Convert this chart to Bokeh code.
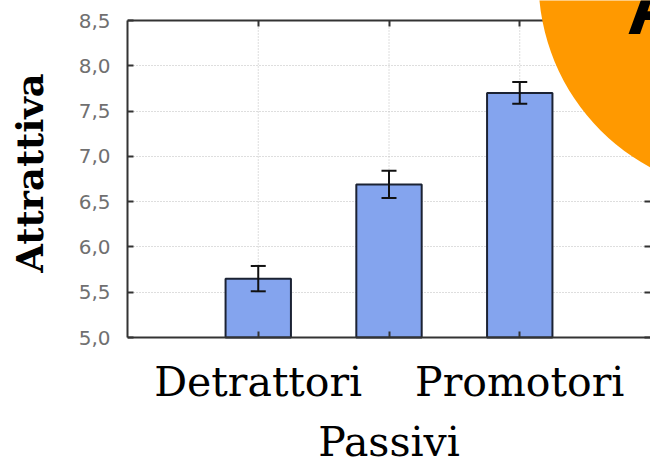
from bokeh.plotting import figure
from bokeh.models import (ColumnDataSource, Whisker, TeeHead, LinearAxis, FixedTicker,
                          CustomJSTickFormatter, BoxAnnotation, Label, Range1d)
from bokeh.embed import file_html
from bokeh.resources import INLINE

categories = ["Detrattori", "Passivi", "Promotori"]
means = [5.65, 6.69, 7.70]
errors = [0.14, 0.15, 0.12]
y_ticks = [5.0, 5.5, 6.0, 6.5, 7.0, 7.5, 8.0, 8.5]
y_title = "Attrattiva"

xs = [i + 1 for i in range(len(categories))]
src = ColumnDataSource(dict(
    x=xs, cat=categories, mean=means,
    upper=[m + e for m, e in zip(means, errors)],
    lower=[m - e for m, e in zip(means, errors)],
))

# the frame covers the whole canvas height; the value axis (5,0 - 8,5) sits
# between y = 20 px and y = 337 px, the bottom and top axes are fixed at its ends
Y0, Y1 = y_ticks[0], y_ticks[-1]
AXIS_TOP, AXIS_Y, CANVAS_H = 20, 337, 461
px_per_unit = (AXIS_Y - AXIS_TOP) / (Y1 - Y0)
y_start = Y0 - (CANVAS_H - AXIS_Y) / px_per_unit
y_end = Y1 + AXIS_TOP / px_per_unit

p = figure(width=650, height=CANVAS_H, output_backend="svg", toolbar_location=None,
           x_range=Range1d(0, 4.0), y_range=Range1d(y_start, y_end),
           min_border_left=127, min_border_right=0, min_border_top=0,
           min_border_bottom=0)
p.outline_line_color = None
p.background_fill_color = "white"
p.border_fill_color = "white"

GRID = "#bdbdbd"
# horizontal grid
p.xgrid.visible = False
p.ygrid.ticker = FixedTicker(ticks=y_ticks)
p.ygrid.grid_line_color = GRID
p.ygrid.grid_line_dash = "1 2"
p.ygrid.grid_line_width = 1
# vertical grid lines at the categories, limited to the value axis extent
p.segment(x0=xs, y0=[Y0] * len(xs), x1=xs, y1=[Y1] * len(xs),
          line_color=GRID, line_dash="1 2", line_width=1)

p.vbar(x="x", top="mean", bottom=Y0, width=0.5, source=src,
       fill_color="#84a4ee", line_color="#1b2233", line_width=2)

w = Whisker(base="x", upper="upper", lower="lower", source=src, level="annotation",
            line_color="#111111", line_width=2,
            upper_head=TeeHead(size=15, line_width=2, line_color="#111111"),
            lower_head=TeeHead(size=15, line_width=2, line_color="#111111"))
p.add_layout(w)

AX = "#333333"

# y axis
ya = p.yaxis[0]
ya.bounds = (Y0, Y1)
ya.ticker = FixedTicker(ticks=y_ticks)
ya.formatter = CustomJSTickFormatter(code="return tick.toFixed(1).replace('.', ',');")
ya.major_label_text_font = "DejaVu Sans"
ya.major_label_text_font_size = "20px"
ya.major_label_text_color = "#707070"
ya.major_tick_in = 6
ya.major_tick_out = 0
ya.minor_tick_line_color = None
ya.major_label_standoff = 17
ya.axis_line_width = 2
ya.axis_line_color = AX
ya.major_tick_line_color = AX
ya.major_tick_line_width = 2
# the title is centred on the (extended) frame; leading no-break spaces lift the
# visible word so it is centred on the 5,0 - 8,5 value axis
ya.axis_label = "\u00a0" * 9 + y_title
ya.axis_label_text_font = "DejaVu Serif"
ya.axis_label_text_font_size = "37px"
ya.axis_label_text_font_style = "bold"
ya.axis_label_text_color = "black"
ya.axis_label_standoff = 24

# x axis (staggered category labels)
xa = p.xaxis[0]
xa.ticker = FixedTicker(ticks=xs)
xa.formatter = CustomJSTickFormatter(args=dict(labels=categories), code="""
const i = Math.round(tick) - 1;
const s = labels[i];
return (i % 2 === 1) ? '\\n' + s : s;
""")
xa.fixed_location = Y0
xa.major_label_text_font = "DejaVu Serif"
xa.major_label_text_font_size = "41px"
xa.major_label_text_line_height = 1.25
xa.major_label_text_color = "black"
xa.major_tick_in = 6
xa.major_tick_out = 0
xa.minor_tick_line_color = None
xa.major_label_standoff = 20
xa.axis_line_width = 2
xa.axis_line_color = AX
xa.major_tick_line_color = AX
xa.major_tick_line_width = 2

# top frame line with inward ticks, fixed at 8,5
ta = LinearAxis(ticker=FixedTicker(ticks=xs), fixed_location=Y1,
                major_label_text_font_size="1px",
                major_label_text_color=None, major_label_standoff=0,
                major_tick_in=6, major_tick_out=0, minor_tick_line_color=None,
                axis_line_width=2, axis_line_color=AX,
                major_tick_line_color=AX, major_tick_line_width=2)
p.add_layout(ta, "above")

# right side inward ticks
ra = LinearAxis(ticker=FixedTicker(ticks=y_ticks), bounds=(Y0, Y1),
                major_label_text_font_size="1px",
                major_label_text_color=None, major_label_standoff=0,
                major_tick_in=6, major_tick_out=0, minor_tick_line_color=None,
                axis_line_color=None, major_tick_line_color=AX, major_tick_line_width=2)
p.add_layout(ra, "right")

# decorative orange disc with letter
disc = BoxAnnotation(left=538, right=962, top=-232, bottom=192,
                     left_units="canvas", right_units="canvas",
                     top_units="canvas", bottom_units="canvas",
                     fill_color="#ff9900", fill_alpha=1.0, line_color=None,
                     border_radius=212)
p.add_layout(disc)
lab = Label(x=626, y=6, x_units="canvas", y_units="canvas", text="A",
            text_font="Liberation Sans", text_font_size="80px", text_font_style="bold",
            text_color="black", text_align="left", text_baseline="alphabetic")
p.add_layout(lab)

open("out.html", "w").write(file_html(p, INLINE))
